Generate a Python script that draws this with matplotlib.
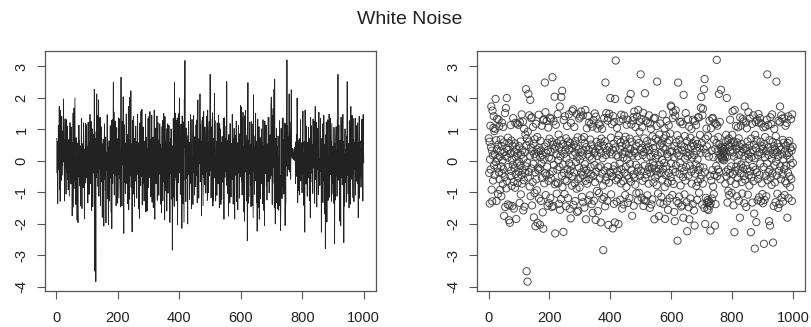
import numpy as np
import matplotlib.pyplot as plt

plt.rcParams['font.family'] = ['Liberation Sans', 'DejaVu Sans']
plt.rcParams['axes.unicode_minus'] = False

# values, x = 1..1000
w1 = [0.72, -0.38, 0.61, -1.35, 0.05, 1.12, -0.27, 0.44, 1.73, -0.91,
      0.33, -1.28, 1.60, 0.18, -0.62, 1.05, 1.42, -0.14, 0.95, -0.45,
      0.21, 1.02, 1.97, -0.03, 0.66, -1.27, 0.38, 1.34, -0.21, 0.09,
      -1.05, 0.52, 1.31, -0.36, 1.10, -0.58, 0.14, -0.92, 0.31, 0.68,
      -0.17, -1.12, 0.47, 1.22, -0.40, 0.02, -0.73, 1.08, -0.26, 0.59,
      -1.74, 0.28, -0.51, 1.52, -1.46, 0.16, 1.68, -0.87, 0.41, 2.00,
      -0.64, 0.11, -1.38, 0.74, -0.19, 0.36, -1.88, 0.57, -1.41, -1.96,
      0.23, -0.48, 1.14, -0.31, 0.65, -0.79, 0.04, -1.43, 0.48, -0.12,
      1.36, -0.66, -1.51, 0.29, -0.23, 0.56, -0.85, 1.21, -0.41, 0.13,
      -1.84, 0.38, -0.07, 1.19, -0.70, 0.24, -0.53, 1.15, -0.34, -0.02]
w2 = [0.47, -1.33, 1.23, -0.15, 0.62, -1.06, 0.19, -0.44, 1.48, -0.72,
      0.35, -0.29, 1.25, -1.57, 0.08, -0.61, 1.02, -1.45, 0.27, -0.38,
      0.84, -0.17, 2.28, 0.49, -3.50, 0.72, -0.06, -3.83, 0.93, -0.52,
      2.13, -0.35, 0.61, 1.45, -0.81, 0.17, 1.94, -1.12, 0.43, 1.36,
      -0.24, 1.39, -1.41, 0.31, -0.67, 1.08, -0.09, 0.55, -1.79, 0.22,
      -1.02, 0.69, -0.36, -2.07, 0.14, 1.18, -0.58, 0.37, -0.93, 0.76,
      -1.96, 0.28, -0.21, -0.30, 1.47, -1.19, 0.42, -0.25, -2.02, 0.12,
      0.64, -1.27, 0.33, -0.08, 1.12, -0.54, 0.19, -1.63, 1.29, -2.15,
      0.05, 1.31, -0.71, 0.46, 2.49, -0.39, 1.55, -1.08, 0.26, -0.46,
      1.27, -0.18, 0.58, -1.42, 0.34, 1.06, -0.63, 0.11, -1.34, 0.71]
w3 = [-0.42, 1.37, -1.17, 0.29, 1.34, -0.56, 0.07, -1.46, 0.61, 2.66,
      -0.33, 0.52, -1.43, 1.26, -0.12, 0.38, 2.04, -0.74, -2.30, 0.46,
      1.15, -0.68, 0.21, -1.04, 0.57, -0.27, 1.49, -0.71, 0.02, 0.84,
      -1.36, 0.43, -0.19, 1.73, -1.55, 0.15, 0.66, -1.21, 2.03, 0.31,
      -0.47, 2.23, -0.83, 0.54, -0.11, -2.25, 1.30, -0.38, 0.23, -1.05,
      1.42, -0.59, 0.36, -1.44, 0.72, 0.08, -0.64, 1.11, -0.26, 0.49,
      -1.18, 0.62, -0.43, 1.48, -0.07, 0.34, -1.52, 0.58, -0.31, -1.82,
      1.21, -0.15, 0.41, -0.78, 1.58, -0.49, 0.19, 1.64, -1.39, 0.52,
      -0.36, 1.08, -0.71, 0.27, -1.27, 0.63, -0.04, 0.46, -0.88, 1.49,
      -1.62, 0.12, 0.75, -0.58, -1.58, 0.38, -0.22, 1.35, -0.84, 0.05]
w4 = [1.41, -0.53, 0.28, 1.57, -0.36, 0.69, -1.14, 0.17, -0.45, 1.45,
      -1.31, 0.33, -0.24, 0.76, -1.48, 0.57, -0.10, 1.62, -0.63, -1.85,
      0.44, -0.29, 1.04, -0.72, 0.21, -0.38, 1.43, -1.25, 0.35, 1.22,
      -0.57, 0.14, -1.09, 0.68, -0.19, 1.18, -0.42, 0.52, -1.37, 0.07,
      1.09, -1.65, 0.39, -0.48, 1.29, -1.26, 0.25, -0.13, 1.51, -0.67,
      0.30, -1.87, 1.41, -0.34, 0.61, -0.95, 0.16, 1.03, -1.59, 0.47,
      -0.21, 1.18, -1.02, 0.36, -0.55, 1.13, -0.17, 0.58, -1.95, 0.24,
      0.71, -0.40, 1.02, -1.21, 0.09, -0.78, -2.83, 0.48, -1.15, 1.36,
      -0.30, 0.63, -1.44, 2.49, -0.62, 0.19, 1.52, -0.51, 0.34, -1.27,
      1.28, -0.18, 1.37, -2.03, 0.45, -0.69, 1.50, -0.35, 0.28, 2.00]
w5 = [-0.38, 0.74, -1.06, 0.21, 1.17, -0.49, 0.36, -2.14, 1.43, -0.27,
      0.55, -1.36, 1.24, -0.15, -1.95, 1.97, 0.43, 3.19, -0.61, 0.18,
      -1.29, 1.05, -0.32, 0.67, -0.56, 0.13, -2.00, 0.81, -0.44, 1.26,
      -0.08, 0.37, -1.23, 0.59, -0.71, 1.47, -0.26, 0.48, -1.51, 0.22,
      1.32, -0.64, 0.11, -1.38, 0.66, 1.44, -0.37, 0.29, -1.08, 0.77,
      -0.19, 0.52, -0.82, 1.15, 0.06, -0.46, 1.31, -1.33, 0.40, 1.94,
      -0.55, 0.23, -1.18, 0.71, -0.09, 0.38, 2.13, -0.66, 1.16, -0.28,
      0.61, -1.74, 0.17, 1.29, -0.43, 1.39, -1.42, 0.31, 1.57, -0.52,
      0.26, -0.75, 1.08, -0.12, 0.49, -1.02, 0.68, 1.41, -0.34, 0.15,
      -1.25, 1.62, -0.21, 0.57, -1.01, 0.93, 1.25, -0.47, 0.36, 2.75]
w6 = [-0.31, 1.34, -1.17, 0.42, 1.08, -0.63, 0.19, 1.53, -1.43, 0.28,
      -1.24, 0.72, -0.15, 2.15, -0.54, 0.37, 1.28, -1.27, 0.11, -0.42,
      0.63, -1.09, 1.21, -0.28, 0.46, -0.72, 1.45, -0.19, 0.34, -1.49,
      1.19, -0.37, 0.14, 1.02, -1.38, 0.59, -0.23, -1.22, 0.78, -0.05,
      0.41, -0.68, 1.35, -0.14, -1.85, 0.26, 1.37, -0.52, 0.09, 0.71,
      -0.33, 1.11, -0.77, 2.52, -0.44, 0.18, -1.03, 0.65, -0.26, -1.75,
      0.84, -0.12, 0.49, -1.33, 1.19, -0.38, 0.27, -1.14, 0.56, 0.03,
      -0.59, 1.48, -0.24, 0.43, -1.37, 0.72, -0.06, 1.04, -0.83, -1.84,
      0.37, -0.45, 0.81, -0.17, 1.27, -1.29, 0.22, 0.58, -0.69, -1.55,
      0.14, 1.13, -0.38, 0.66, -1.18, 0.29, 0.87, -0.51, 1.76, -0.08]
w7 = [1.72, -0.64, 0.31, -1.08, 1.36, -0.27, 1.55, -0.73, 0.12, -1.62,
      0.47, -1.91, 1.44, -0.35, 1.61, -0.14, 0.59, -1.27, 0.24, 0.82,
      -2.53, 0.36, 2.49, -1.34, 0.18, -1.13, 0.67, -0.41, 1.24, -0.06,
      -0.78, 0.52, -1.45, 1.25, -0.22, 0.34, -1.41, 1.17, -0.51, -1.80,
      2.10, -0.33, 0.44, -1.06, 0.79, 0.08, -0.62, 1.52, -0.19, 0.27,
      -1.31, 0.63, -2.23, 0.15, 1.33, -0.47, 0.39, -1.47, 1.09, -1.85,
      0.21, -0.15, 0.74, -1.19, 0.46, -0.34, 1.02, -0.72, 0.11, 0.57,
      -1.36, 1.31, -0.26, 0.48, -1.57, 0.19, -2.05, 1.27, -0.40, 0.65,
      -0.11, 1.14, -0.79, 0.32, -1.24, 0.54, 0.05, -0.66, 1.39, -0.29,
      1.38, -1.01, 0.42, -0.18, 0.83, -0.57, 0.26, 1.69, 2.03, -0.45]
w8 = [0.57, -1.38, 1.45, -0.72, 1.66, -0.21, 0.38, 2.28, -1.49, 2.60,
      -0.36, -2.00, 0.71, -1.17, 0.25, 1.03, -1.33, 0.46, -1.52, -1.24,
      0.79, -1.31, -1.56, 0.14, -1.28, 1.28, -1.42, -0.47, -2.21, -1.35,
      1.04, -0.62, 0.33, -1.19, 1.34, -0.29, 1.37, -0.81, 0.12, -1.05,
      0.68, -0.44, 1.21, -2.05, 0.39, -1.37, 1.18, -0.16, 0.57, 3.21,
      -0.48, 1.12, 0.31, -0.27, 0.76, 0.08, 2.13, -0.35, 0.52, 1.24,
      0.19, -0.58, 0.44, 2.26, 0.15, 0.33, 0.08, 0.41, 0.12, 0.27,
      0.05, 0.38, 0.21, 0.02, 0.30, 0.44, 0.14, -0.72, 0.61, -0.34,
      0.83, -0.49, 2.00, 0.13, -1.32, 0.66, -0.27, -0.95, 0.52, 0.71,
      -1.08, 0.45, -0.38, 1.31, -0.63, 0.29, -0.17, 0.58, -1.01, 0.36]
w9 = [0.83, 1.58, -0.42, 0.27, -1.41, 0.61, 0.14, -2.26, 1.62, -0.31,
      0.48, -0.73, 1.11, -0.18, 0.37, -1.12, 0.59, 0.02, -0.54, 1.07,
      -0.27, 0.72, -1.26, 0.19, 0.46, -1.80, 1.38, -0.39, 1.12, -0.11,
      0.54, -0.67, 0.28, -1.03, 1.33, -0.22, 0.38, 1.26, -0.48, -1.34,
      0.15, 1.73, -0.59, 0.42, -0.14, 1.22, -1.46, 0.33, 1.04, -0.26,
      0.62, -1.07, 0.21, 1.55, -0.45, 0.07, -0.78, 0.49, 1.35, -0.33,
      0.26, -2.26, 0.71, -0.52, 0.13, 1.18, -1.32, 0.35, -0.19, 1.45,
      -0.64, 0.52, -1.67, 0.09, -2.78, 0.83, -0.28, 1.24, 0.41, -1.94,
      0.67, -0.36, 1.31, -1.25, 0.18, -0.57, 1.49, 1.22, -1.15, 0.29,
      -0.44, 1.36, -0.08, 0.61, -1.28, 1.19, 0.23, -0.71, 0.47, -1.05]
w10 = [0.38, -1.34, 1.07, -0.19, -2.63, 0.54, -1.24, 0.12, 0.76, 1.09,
       -0.47, 0.31, -1.12, 1.31, -0.08, 2.75, -0.61, 0.43, 1.14, -0.35,
       0.19, -1.91, 0.66, -0.27, -2.05, 1.39, -0.53, 0.34, 1.17, -0.76,
       0.08, 1.48, -0.39, 0.61, -2.59, 0.22, -1.43, 0.47, 1.02, -0.14,
       -0.68, 0.36, -1.31, 0.79, -0.02, 2.52, -0.46, 0.28, -1.04, 0.55,
       0.13, -1.49, 1.28, -0.31, 0.44, -1.37, 1.23, 1.73, -0.17, 0.36,
       -0.58, 1.45, -1.16, 0.21, 1.35, -0.42, 0.67, -1.29, 0.05, 0.58,
       -0.26, 1.36, -1.08, 0.31, -0.64, 1.12, -0.15, 0.49, -0.71, 1.21,
       0.18, -1.80, 0.57, -0.37, 1.42, -1.18, 0.25, 0.64, -0.49, 0.07,
       -0.83, 0.41, -0.12, 1.33, -0.57, 0.33, -1.27, 1.48, 0.45, -0.06]

w = np.array(w1 + w2 + w3 + w4 + w5 + w6 + w7 + w8 + w9 + w10)
t = np.arange(1, len(w) + 1)

xticks = [0, 200, 400, 600, 800, 1000]
yticks = [-4, -3, -2, -1, 0, 1, 2, 3]
title = 'White Noise'

fig = plt.figure(figsize=(8.11, 3.27), dpi=100)
ax1 = fig.add_axes([0.0549, 0.1116, 0.4088, 0.7324])
ax2 = fig.add_axes([0.5878, 0.1116, 0.4048, 0.7324])

ax1.plot(t, w, color='#222222', lw=0.6)
ax2.scatter(t, w, s=27, facecolors='none', edgecolors='#3a3a3a',
            linewidths=0.7, alpha=0.9)

# R style 4% padding
pad_x = 0.04 * (t.max() - t.min())
pad_y = 0.04 * (w.max() - w.min())
for ax in (ax1, ax2):
    ax.set_xlim(t.min() - pad_x, t.max() + pad_x)
    ax.set_ylim(w.min() - pad_y, w.max() + pad_y)
    ax.set_xticks(xticks)
    ax.set_yticks(yticks)
    for s in ax.spines.values():
        s.set_color('#555555')
        s.set_linewidth(0.9)
    ax.tick_params(axis='both', direction='out', length=5.5, width=0.8,
                   color='#555555', labelsize=10.5, labelcolor='#222222')
    ax.tick_params(axis='x', pad=9)
    ax.tick_params(axis='y', pad=6, labelrotation=90)
    for lab in ax.get_yticklabels():
        lab.set_verticalalignment('center')

fig.text(410 / 811, 1 - 20 / 327, title, ha='center', va='center',
         fontsize=14, color='#222222')

fig.savefig('out.png', dpi=100)
